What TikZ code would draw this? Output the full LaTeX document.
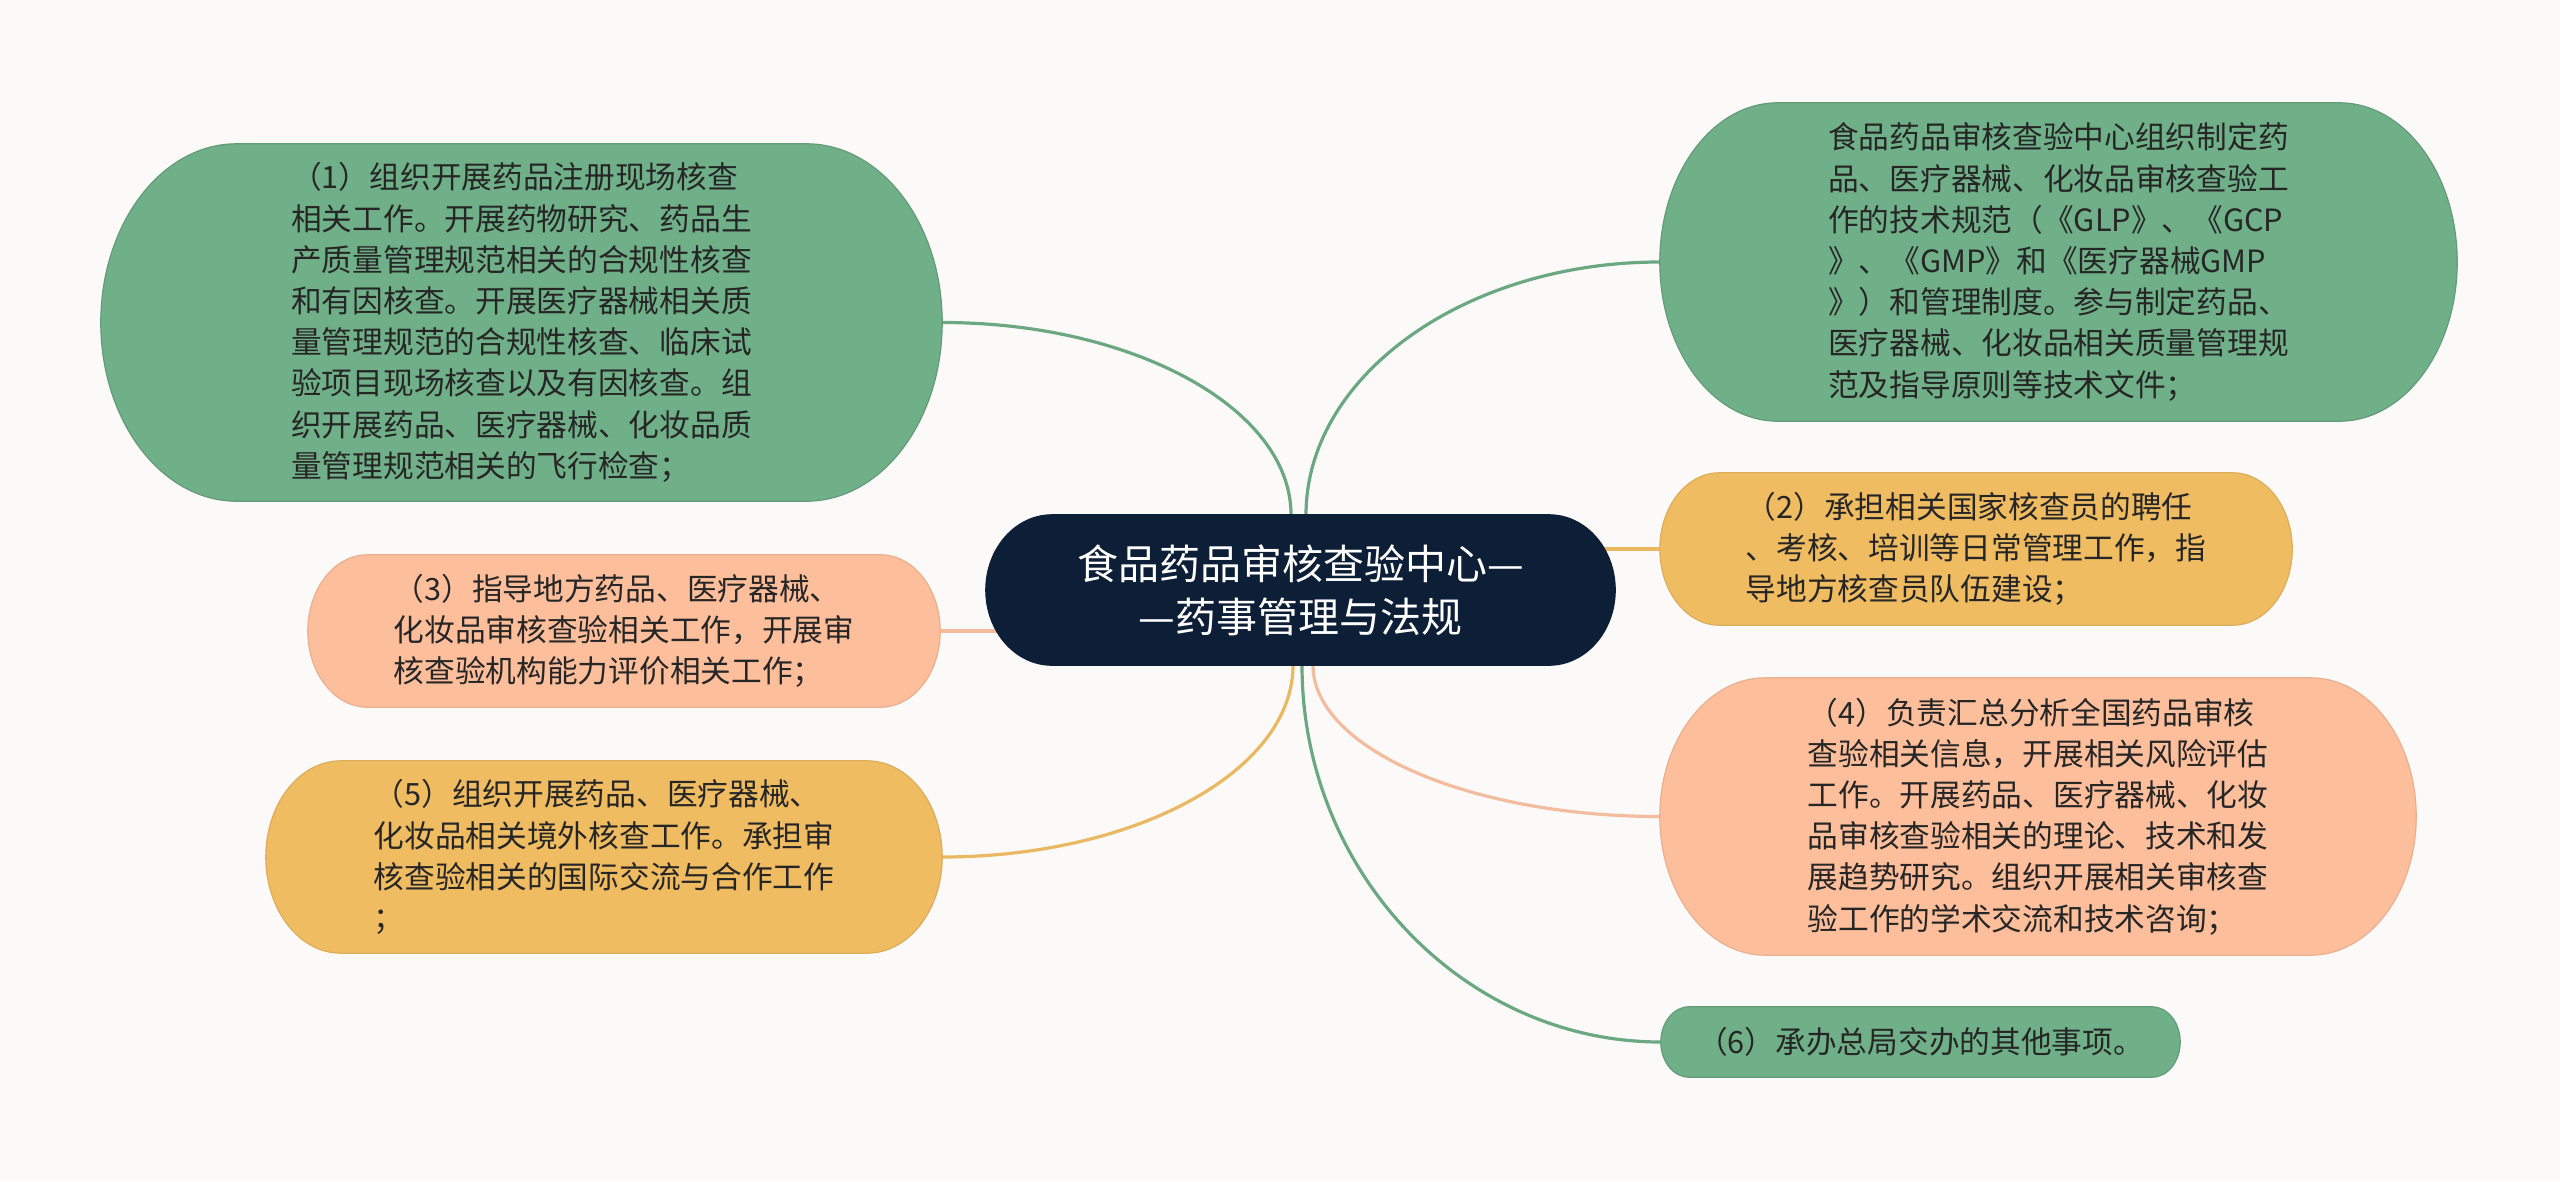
\documentclass[tikz,border=0pt]{standalone}
\usepackage{fontspec}
\newfontfamily\cjk{Noto Sans CJK SC}
\usetikzlibrary{backgrounds,calc}
\definecolor{bgc}{HTML}{FCFAF8}
\definecolor{gfill}{HTML}{70B088}
\definecolor{ofill}{HTML}{EFBC62}
\definecolor{sfill}{HTML}{FDBE9B}
\definecolor{navy}{HTML}{0D1E37}
\definecolor{gline}{HTML}{6BA882}
\definecolor{oline}{HTML}{E9B860}
\definecolor{sline}{HTML}{F3BC9E}
\definecolor{txtc}{HTML}{262626}
\newcommand\pillshape[4]{%
  \path[fill=#3,draw=#4,line width=1.2pt]
    let \p1=(#1.south west), \p2=(#1.north east),
        \n1={(\y2-\y1)/2}, \n2={#2*(\y2-\y1)/2}
    in (\x1+\n2,\y2) -- (\x2-\n2,\y2)
       arc[start angle=90,end angle=-90,x radius={(\n2)*1pt},y radius={(\n1)*1pt}]
       -- (\x1+\n2,\y1)
       arc[start angle=270,end angle=90,x radius={(\n2)*1pt},y radius={(\n1)*1pt}]
       -- cycle;}
\begin{document}
\begin{tikzpicture}[x=1pt,y=-1pt,
  txt/.style={text=txtc,align=left,inner sep=0pt,font=\cjk\fontsize{30.7}{41.2}\selectfont},
  ttl/.style={text=white,align=center,inner sep=0pt,font=\cjk\fontsize{41}{53}\selectfont},
  conn/.style={line width=3.2pt,line cap=round}]
\useasboundingbox (0,0) rectangle (2560,1181);

% central topic
\node[ttl,minimum width=629,minimum height=150] (c) at (1300.5,590)
  {食品药品审核查验中心—\\—药事管理与法规};

% branches
\node[txt,minimum width=841,minimum height=357] (n1) at (521.5,322.5)
  {（1）组织开展药品注册现场核查\\相关工作。开展药物研究、药品生\\产质量管理规范相关的合规性核查\\和有因核查。开展医疗器械相关质\\量管理规范的合规性核查、临床试\\验项目现场核查以及有因核查。组\\织开展药品、医疗器械、化妆品质\\量管理规范相关的飞行检查；};
\node[txt,minimum width=797,minimum height=318] (n2) at (2058.5,262)
  {食品药品审核查验中心组织制定药\\品、医疗器械、化妆品审核查验工\\作的技术规范（《GLP》、《GCP\\》、《GMP》和《医疗器械GMP\\》）和管理制度。参与制定药品、\\医疗器械、化妆品相关质量管理规\\范及指导原则等技术文件；};
\node[txt,minimum width=632,minimum height=152] (n3) at (624,631)
  {（3）指导地方药品、医疗器械、\\化妆品审核查验相关工作，开展审\\核查验机构能力评价相关工作；};
\node[txt,minimum width=676,minimum height=192] (n4) at (604,857)
  {（5）组织开展药品、医疗器械、\\化妆品相关境外核查工作。承担审\\核查验相关的国际交流与合作工作\\；};
\node[txt,minimum width=632,minimum height=152] (n5) at (1976,549)
  {（2）承担相关国家核查员的聘任\\、考核、培训等日常管理工作，指\\导地方核查员队伍建设；};
\node[txt,minimum width=756,minimum height=277] (n6) at (2038,816.5)
  {（4）负责汇总分析全国药品审核\\查验相关信息，开展相关风险评估\\工作。开展药品、医疗器械、化妆\\品审核查验相关的理论、技术和发\\展趋势研究。组织开展相关审核查\\验工作的学术交流和技术咨询；};
\node[txt,minimum width=519,minimum height=70] (n7) at (1920.5,1042)
  {（6）承办总局交办的其他事项。};

\coordinate (ct1) at ($(c.north)+(-9.5,0)$);
\coordinate (ct2) at ($(c.north)+(5.5,0)$);
\coordinate (cb1) at ($(c.south)+(-7.5,0)$);
\coordinate (cb2) at ($(c.south)+(1.5,0)$);
\coordinate (cb3) at ($(c.south)+(12.5,0)$);

\begin{pgfonlayer}{background}
\fill[bgc] (0,0) rectangle (2560,1181);
% connectors
\draw[conn,gline] (n1.east) .. controls +(192,0) and +(0,-106) .. (ct1);
\draw[conn,gline] (ct2) .. controls +(0,-139) and +(-195,0) .. (n2.west);
\draw[conn,sline] (n3.east) -- (n3.east -| c.center);
\draw[conn,oline] (n5.west) -- (n5.west -| c.center);
\draw[conn,oline] (cb1) .. controls +(0,106) and +(193,0) .. (n4.east);
\draw[conn,sline] (cb3) .. controls +(0,83) and +(-191,0) .. (n6.west);
\draw[conn,gline] (cb2) .. controls +(0,207) and +(-197,0) .. (n7.west);
% shapes
\pillshape{c}{0.88}{navy}{navy}
\pillshape{n1}{0.76}{gfill}{gfill!88!black}
\pillshape{n2}{0.74}{gfill}{gfill!88!black}
\pillshape{n3}{0.78}{sfill}{sfill!92!black}
\pillshape{n4}{0.78}{ofill}{ofill!92!black}
\pillshape{n5}{0.78}{ofill}{ofill!92!black}
\pillshape{n6}{0.76}{sfill}{sfill!92!black}
\pillshape{n7}{0.8}{gfill}{gfill!88!black}
\end{pgfonlayer}
\end{tikzpicture}
\end{document}
